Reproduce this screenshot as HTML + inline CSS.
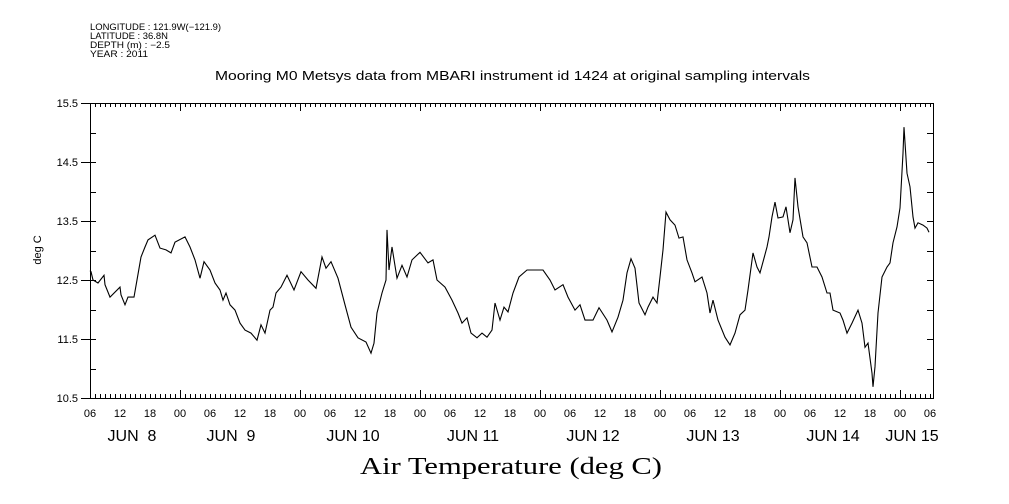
<!DOCTYPE html>
<html><head><meta charset="utf-8"><style>
html,body{margin:0;padding:0;background:#fff;}
svg{display:block;font-family:"Liberation Sans",sans-serif;}
</style></head><body>
<svg id="chart" width="1009" height="504" viewBox="0 0 1009 504">
<g font-size="9" fill="#000">
<text x="90" y="30" textLength="131" lengthAdjust="spacingAndGlyphs">LONGITUDE : 121.9W(−121.9)</text>
<text x="90" y="39" textLength="78" lengthAdjust="spacingAndGlyphs">LATITUDE : 36.8N</text>
<text x="90" y="48" textLength="80" lengthAdjust="spacingAndGlyphs">DEPTH (m) : −2.5</text>
<text x="90" y="57" textLength="58" lengthAdjust="spacingAndGlyphs">YEAR : 2011</text>
</g>
<text x="215" y="80" textLength="595" lengthAdjust="spacingAndGlyphs" font-size="13">Mooring M0 Metsys data from MBARI instrument id 1424 at original sampling intervals</text>
<text transform="translate(41,250) rotate(-90)" text-anchor="middle" font-size="11">deg C</text>
<text x="360" y="474" textLength="302" lengthAdjust="spacingAndGlyphs" font-size="24" font-family="Liberation Serif, serif">Air Temperature (deg C)</text>
<g id="axes"></g>
<g id="series"></g>
</svg>
<script>
const hours=[0,0.2,0.6,1.6,2.8,3.0,4.0,6.0,6.2,7.0,7.6,8.8,9.4,10.2,11,11.6,13,14,15.2,16.2,17,19,20,21,22,22.8,24,25,26,26.6,27.2,28,29,30,31,32.2,33.4,34.2,35,36,36.6,37.2,38.2,39.4,40.8,42.2,43.6,45.2,46.4,47.2,48.2,49.6,51,52.2,53.6,55.2,56.2,56.8,57.4,58.4,59.2,59.4,59.8,60.4,61.4,62.4,63.4,64.4,66.0,67.6,68.6,69.4,71.0,72.4,73.6,74.4,75.4,76.2,77.4,78.4,79.4,80.4,81.0,82.0,82.8,83.6,84.6,85.8,87.4,89.0,90.6,92.0,93.0,94.6,95.6,97.0,98.0,99.0,100.6,101.8,103.4,104.4,105.6,106.6,107.4,108.2,109.0,109.8,111.0,111.6,112.6,113.4,114.0,114.6,115.2,116.0,117.0,117.8,118.6,119.4,120.4,121.0,122.4,123.4,124.0,124.6,125.6,127.0,128.0,129.0,130.0,131.0,131.6,132.6,133.4,134.0,134.8,135.4,135.8,136.4,137.0,137.6,138.6,139.2,140.0,140.6,141.0,141.6,142.6,143.4,144.4,145.4,146.4,147.4,148.0,148.6,150.0,150.6,151.4,152.4,153.6,154.4,155.0,155.6,156.4,156.6,157.0,157.6,158.4,159.4,160.0,160.6,161.4,162.0,162.6,162.8,163.4,164.0,164.6,165.0,165.6,166.6,167.4,167.8];
const temps=[12.66,12.64,12.50,12.45,12.58,12.42,12.21,12.38,12.25,12.08,12.21,12.21,12.50,12.89,13.06,13.18,13.26,13.04,13.01,12.96,13.14,13.23,13.06,12.84,12.53,12.81,12.67,12.45,12.33,12.16,12.28,12.08,11.99,11.77,11.65,11.60,11.48,11.74,11.60,11.99,12.04,12.28,12.38,12.58,12.33,12.64,12.50,12.36,12.89,12.70,12.81,12.53,12.08,11.70,11.52,11.45,11.26,11.43,11.94,12.28,12.50,13.35,12.67,13.06,12.53,12.75,12.55,12.84,12.97,12.79,12.84,12.50,12.38,12.16,11.94,11.77,11.86,11.60,11.52,11.60,11.53,11.65,12.11,11.82,12.04,11.96,12.28,12.55,12.67,12.67,12.67,12.50,12.33,12.42,12.21,11.99,12.08,11.82,11.82,12.03,11.82,11.62,11.87,12.16,12.62,12.86,12.70,12.11,11.91,12.04,12.21,12.11,12.55,13.01,13.65,13.52,13.43,13.21,13.23,12.84,12.62,12.47,12.55,12.28,11.94,12.16,11.82,11.53,11.40,11.60,11.91,11.99,12.33,12.96,12.72,12.62,12.87,13.06,13.23,13.57,13.82,13.55,13.57,13.74,13.30,13.52,14.23,13.74,13.23,13.13,12.72,12.72,12.55,12.28,12.28,11.99,11.94,11.82,11.60,11.77,11.99,11.77,11.36,11.43,10.92,10.69,11.03,11.94,12.55,12.72,12.79,13.13,13.40,13.72,14.65,15.09,14.31,14.08,13.57,13.38,13.47,13.43,13.38,13.31];
const yTicks=[10.5,11.0,11.5,12.0,12.5,13.0,13.5,14.0,14.5,15.0,15.5];
const yLabels=["10.5","","11.5","","12.5","","13.5","","14.5","","15.5"];
const hourLabels=["06","12","18","00"];
const dayLabels=["JUN  8","JUN  9","JUN 10","JUN 11","JUN 12","JUN 13","JUN 14","JUN 15"];
const dayLabelHours=[8.4,28.2,52.6,76.6,100.6,124.6,148.6,164.4];

const L=90,R=933,T=103,B=398,HMAX=168.6,YMIN=10.5,YMAX=15.5;
const xs=h=>L+h*(R-L)/HMAX;
const ys=v=>B-(v-YMIN)*(B-T)/(YMAX-YMIN);
const NS="http://www.w3.org/2000/svg";
const axes=document.getElementById('axes');
function mk(tag,attrs,parent){const e=document.createElementNS(NS,tag);for(const k in attrs)e.setAttribute(k,attrs[k]);parent.appendChild(e);return e;}

const frame=mk('rect',{x:L+0.5,y:T+0.5,width:R-L,height:B-T,fill:'none',stroke:'#000','stroke-width':1},axes);



let tp='';
for(let h=0;h<=HMAX;h+=1){
  const x=Math.round(xs(h))+0.5;
  const major=((h+6)%24===0);
  const len=major?8:4;
  tp+=`M${x},${B}V${B-len}M${x},${T}V${T+len}`;
}
yTicks.forEach((v,i)=>{
  const y=Math.round(ys(v))+0.5;
  tp+=`M${L},${y}H${L+6}M${R},${y}H${R-6}`;
  if(yLabels[i])tp+=`M${L-9},${y}H${L}`;
});
const ticks=mk('path',{d:tp,stroke:'#000','stroke-width':1,fill:'none'},axes);



yTicks.forEach((v,i)=>{
  if(!yLabels[i])return;
  const t=mk('text',{x:L-12,y:ys(v)+4,'text-anchor':'end','font-size':11},axes);
  t.textContent=yLabels[i];
  
  
});
for(let h=0,i=0;h<=168;h+=6,i++){
  const t=mk('text',{x:xs(h),y:417,'text-anchor':'middle','font-size':11},axes);
  t.textContent=hourLabels[i%4];
  
  
}
dayLabels.forEach((d,i)=>{
  const t=mk('text',{x:xs(dayLabelHours[i]),y:441,'text-anchor':'middle','font-size':16},axes);
  t.setAttribute('style','white-space:pre');
  t.textContent=d;
  
  
});

const pts=hours.map((h,i)=>xs(h).toFixed(1)+','+ys(temps[i]).toFixed(1)).join(' ');
const line=mk('polyline',{points:pts,fill:'none',stroke:'#000','stroke-width':1.1},document.getElementById('series'));


</script>
</body></html>
